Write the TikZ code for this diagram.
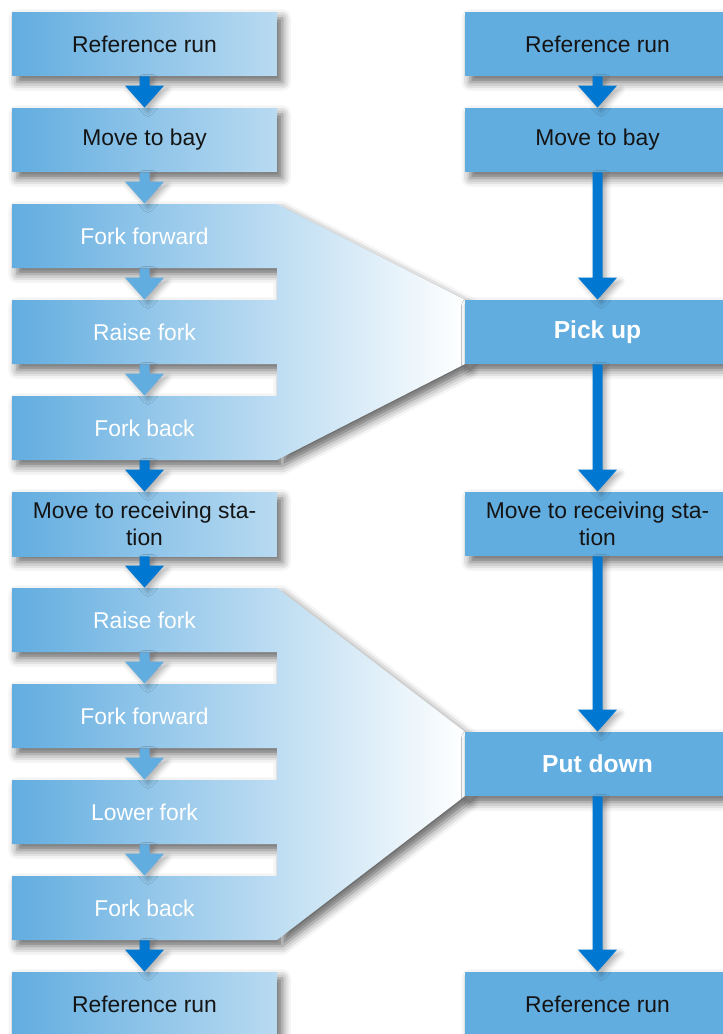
\documentclass[tikz,border=0pt]{standalone}
\usepackage{fontspec}
\setmainfont{Liberation Sans}
\usetikzlibrary{calc,shadows.blur}

\tikzset{
  boxshadow/.style={blur shadow={shadow xshift=3pt, shadow yshift=-3.5pt,
      shadow blur radius=5pt, shadow opacity=60}},
  arrowshadow/.style={blur shadow={shadow xshift=2pt, shadow yshift=-2pt,
      shadow blur radius=3pt, shadow opacity=30}},
  flowbox/.style={minimum width=5.3cm, minimum height=1.28cm, inner sep=0pt,
      align=center, font=\fontsize{13}{15.3}\selectfont},
  mainbox/.style={flowbox, boxshadow, left color=boxL, right color=boxL!45!white,
      text=boxText},
  substep/.style={flowbox, text=white},
  rightbox/.style={flowbox, boxshadow, fill=boxL, text=boxText},
  actionbox/.style={flowbox, boxshadow, fill=boxL, text=white,
      font=\fontsize{14}{16}\selectfont\bfseries},
  funnel/.style={boxshadow, left color=boxL, right color=white},
}

\begin{document}
\begin{tikzpicture}[x=0.02cm, y=-0.02cm]
  \definecolor{boxL}{RGB}{98,173,224}
  \definecolor{arrowDark}{RGB}{0,120,210}
  \definecolor{boxText}{RGB}{20,20,20}

  \useasboundingbox (0,0) rectangle (723,1034);
  \clip (0,0) rectangle (723,1034);

  \pgfmathsetmacro{\lx}{144.5};
  \pgfmathsetmacro{\rx}{597.5};

  % Draw the funnels first, the sub steps sit on them

  \path[funnel]
    (12,204) rectangle (277,268)
    (12,300) rectangle (277,364)
    (12,396) rectangle (277,460)
    (277,204) -- (465,300) -- (465,364) -- (277,460) -- cycle;
  \path[funnel]
    (12,588) rectangle (277,652)
    (12,684) rectangle (277,748)
    (12,780) rectangle (277,844)
    (12,876) rectangle (277,940)
    (277,588) -- (465,732) -- (465,796) -- (277,940) -- cycle;

  % Left column, one row every 96

  \node[mainbox] (lref)    at (\lx,44)   {Reference run};
  \node[mainbox] (lbay)    at (\lx,140)  {Move to bay};
  \node[substep] (lfwdA)   at (\lx,236)  {Fork forward};
  \node[substep] (lraiseA) at (\lx,332)  {Raise fork};
  \node[substep] (lbackA)  at (\lx,428)  {Fork back};
  \node[mainbox] (lrecv)   at (\lx,524)  {Move to receiving sta-\\tion};
  \node[substep] (lraiseB) at (\lx,620)  {Raise fork};
  \node[substep] (lfwdB)   at (\lx,716)  {Fork forward};
  \node[substep] (llower)  at (\lx,812)  {Lower fork};
  \node[substep] (lbackB)  at (\lx,908)  {Fork back};
  \node[mainbox] (lend)    at (\lx,1004) {Reference run};

  % Right column

  \node[rightbox]  (rref)  at (\rx,44)   {Reference run};
  \node[rightbox]  (rbay)  at (\rx,140)  {Move to bay};
  \node[actionbox] (rpick) at (\rx,332)  {Pick up};
  \node[rightbox]  (rrecv) at (\rx,524)  {Move to receiving sta-\\tion};
  \node[actionbox] (rput)  at (\rx,764)  {Put down};
  \node[rightbox]  (rend)  at (\rx,1004) {Reference run};

  % Then draw the arrows

  \pgfmathsetmacro{\shaft}{5};
  \pgfmathsetmacro{\head}{19.5};
  \pgfmathsetmacro{\headlen}{22};
  \foreach \from/\to/\col in {lref/lbay/arrowDark, lbay/lfwdA/boxL,
      lfwdA/lraiseA/boxL, lraiseA/lbackA/boxL, lbackA/lrecv/arrowDark,
      lrecv/lraiseB/arrowDark, lraiseB/lfwdB/boxL, lfwdB/llower/boxL,
      llower/lbackB/boxL, lbackB/lend/arrowDark,
      rref/rbay/arrowDark, rbay/rpick/arrowDark, rpick/rrecv/arrowDark,
      rrecv/rput/arrowDark, rput/rend/arrowDark}{
    \fill[fill=\col, arrowshadow]
      ($(\from.south)+(-\shaft,0)$) -- ($(\to.north)+(-\shaft,-\headlen)$)
      -- ($(\to.north)+(-\head,-\headlen)$) -- (\to.north)
      -- ($(\to.north)+(\head,-\headlen)$) -- ($(\to.north)+(\shaft,-\headlen)$)
      -- ($(\from.south)+(\shaft,0)$) -- cycle;
  }
\end{tikzpicture}
\end{document}
